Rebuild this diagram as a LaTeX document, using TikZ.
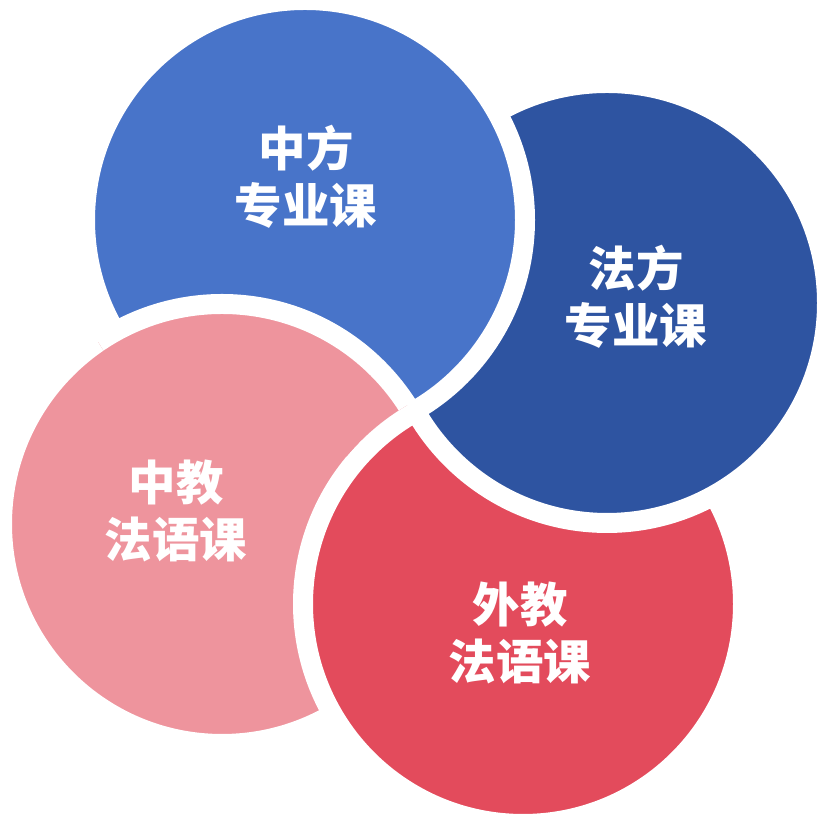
\documentclass[tikz,border=0pt]{standalone}
\usepackage{tkz-euclide}
\usepackage{fontspec}
\newfontfamily\cjk{Noto Sans CJK SC}
\definecolor{lightblue}{HTML}{4874C9}
\definecolor{darkblue}{HTML}{2E54A1}
\definecolor{lightred}{HTML}{EE949D}
\definecolor{darkred}{HTML}{E34B5C}
\tikzset{ring/.style={draw=white, line width=0.2cm},
  course/.style={text=white, align=center, font=\cjk\bfseries\fontsize{13.5}{16.2}\selectfont}}

\begin{document}
\begin{tikzpicture}
    \useasboundingbox (0,0) rectangle (8.2,8.15);
    \tkzDefPoints{3.05/5.95/A, 6.07/5.12/B, 2.22/2.91/C, 5.23/2.11/D}
    % each circle lies over the next one
    \draw[ring, fill=lightred] (C) circle (2.2);
    \draw[ring, fill=darkred] (D) circle (2.2);
    \draw[ring, fill=darkblue] (B) circle (2.2);
    \draw[ring, fill=lightblue] (A) circle (2.2);
    \begin{scope}[even odd rule]
        \clip (A) circle (2.4);
        \clip (D) circle (2.3) (-1,-1) rectangle (9.2,9.15);
        \draw[ring, fill=lightred] (C) circle (2.2);
    \end{scope}
    \node[course] (zf) at (3.06,6.38) {中方\\专业课};
    \node[course] (ff) at (6.36,5.18) {法方\\专业课};
    \node[course] (zj) at (1.76,3.04) {中教\\法语课};
    \node[course] (wj) at (5.20,1.82) {外教\\法语课};
\end{tikzpicture}
\end{document}
